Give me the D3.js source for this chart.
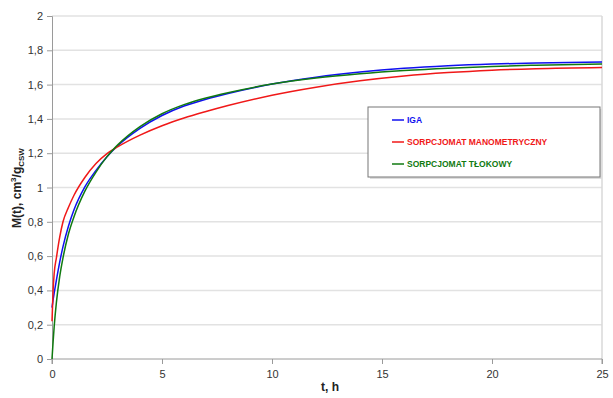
<!DOCTYPE html>
<html>
<head>
<meta charset="utf-8">
<script src="https://cdn.jsdelivr.net/npm/d3@7"></script>
<style>
  body { margin: 0; background: #fff; }
  svg { font-family: "Liberation Sans", Arial, sans-serif; }
  .tick text { fill: #333; font-size: 11px; }
</style>
</head>
<body>
<svg id="chart" width="613" height="398"></svg>
<script>
// values
var hours = [0, 0.05, 0.1, 0.2, 0.35, 0.5, 0.75, 1, 1.5, 2, 2.5, 3, 4, 5, 6, 7, 8, 10, 12, 14, 16, 18, 20, 22, 25];
var iga   = [0.30, 0.345, 0.385, 0.46, 0.565, 0.655, 0.775, 0.87, 1.005, 1.10, 1.18, 1.245, 1.345, 1.42, 1.475, 1.515, 1.548, 1.603, 1.643, 1.673, 1.695, 1.71, 1.72, 1.726, 1.732];
var mano  = [0.22, 0.40, 0.50, 0.59, 0.71, 0.80, 0.885, 0.955, 1.06, 1.14, 1.198, 1.238, 1.305, 1.36, 1.405, 1.443, 1.478, 1.538, 1.585, 1.622, 1.65, 1.67, 1.684, 1.693, 1.70];
var tlok  = [0.00, 0.10, 0.19, 0.33, 0.48, 0.59, 0.73, 0.83, 0.98, 1.09, 1.18, 1.25, 1.355, 1.43, 1.483, 1.522, 1.553, 1.603, 1.638, 1.663, 1.682, 1.696, 1.706, 1.713, 1.72];
var seriesNames = ['IGA', 'SORPCJOMAT MANOMETRYCZNY', 'SORPCJOMAT TŁOKOWY'];
var seriesColors = ['#1010f0', '#f01818', '#107a10'];
var xTicks = [0, 5, 10, 15, 20, 25];
var yTicks = [0, 0.2, 0.4, 0.6, 0.8, 1, 1.2, 1.4, 1.6, 1.8, 2];

var svg = d3.select('#chart');
var x = d3.scaleLinear().domain([0, 25]).range([52, 602]);
var y = d3.scaleLinear().domain([0, 2]).range([359, 16]);
var comma = function(d) { return String(d).replace('.', ','); };

// gridlines
svg.append('g').selectAll('line')
    .data(yTicks.slice(1))
    .enter().append('line')
    .attr('x1', x(0)).attr('x2', x(25))
    .attr('y1', function(d) { return y(d); })
    .attr('y2', function(d) { return y(d); })
    .attr('stroke', '#e2e2e2').attr('stroke-width', 1.5);

// right border
svg.append('line')
    .attr('x1', x(25)).attr('x2', x(25))
    .attr('y1', y(2)).attr('y2', y(0))
    .attr('stroke', '#d8d8d8').attr('stroke-width', 1.5);

var yAxis = d3.axisLeft(y).tickValues(yTicks).tickFormat(comma).tickSize(5).tickPadding(4);
var xAxis = d3.axisBottom(x).tickValues(xTicks).tickSize(5).tickPadding(6);

svg.append('g').attr('transform', 'translate(' + x(0) + ',0)').call(yAxis)
    .call(function(g) { g.selectAll('line, path').attr('stroke', '#9a9a9a'); });
svg.append('g').attr('transform', 'translate(0,' + y(0) + ')').call(xAxis)
    .call(function(g) { g.selectAll('line, path').attr('stroke', '#9a9a9a'); })
    .call(function(g) { g.select('.domain').attr('d', 'M' + x(0) + ',5V0H' + x(25) + 'V5'); });

// curves
var line = d3.line()
    .x(function(d) { return x(d[0]); })
    .y(function(d) { return y(d[1]); })
    .curve(d3.curveMonotoneX);

[iga, mano, tlok].forEach(function(vals, i) {
    svg.append('path')
        .datum(hours.map(function(h, j) { return [h, vals[j]]; }))
        .attr('d', line)
        .attr('fill', 'none')
        .attr('stroke', seriesColors[i])
        .attr('stroke-width', 1.5);
});

// axis titles
svg.append('text')
    .attr('x', 330).attr('y', 391)
    .attr('text-anchor', 'middle')
    .attr('font-size', 12).attr('font-weight', 'bold').attr('fill', '#222')
    .text('t, h');

var yt = svg.append('text')
    .attr('transform', 'translate(21,188) rotate(-90)')
    .attr('text-anchor', 'middle')
    .attr('font-size', 12).attr('font-weight', 'bold').attr('fill', '#222');
yt.append('tspan').text('M(t), cm');
yt.append('tspan').attr('font-size', 8).attr('dy', -5).text('3');
yt.append('tspan').attr('dy', 5).text('/g');
yt.append('tspan').attr('font-size', 8).attr('dy', 3).text('CSW');

// legend
var lg = svg.append('g');
lg.append('rect').attr('x', 370).attr('y', 109).attr('width', 232).attr('height', 70)
    .attr('fill', '#ddd');
lg.append('rect').attr('x', 368).attr('y', 107).attr('width', 232).attr('height', 70)
    .attr('fill', '#fff').attr('stroke', '#777').attr('stroke-width', 1);
seriesNames.forEach(function(name, i) {
    var yy = 120 + i * 22;
    lg.append('line').attr('x1', 392).attr('x2', 404).attr('y1', yy).attr('y2', yy)
        .attr('stroke', seriesColors[i]).attr('stroke-width', 1.5);
    lg.append('text').attr('x', 407).attr('y', yy + 3)
        .attr('font-size', 8.5).attr('font-weight', 'bold')
        .attr('fill', seriesColors[i]).text(name);
});
</script>
</body>
</html>
